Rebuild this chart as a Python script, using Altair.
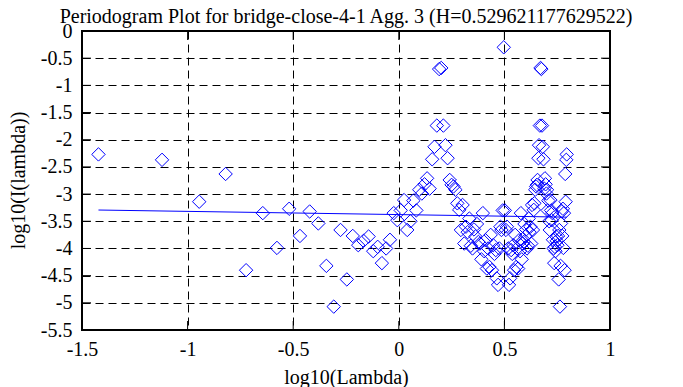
import altair as alt
import pandas as pd

# log10(Lambda) for each Fourier frequency (k = 1..165)
log_lambda = [
    -1.422, -1.121, -0.945, -0.820, -0.723, -0.644, -0.577, -0.519, -0.468, -0.422,
    -0.381, -0.343, -0.308, -0.276, -0.246, -0.218, -0.192, -0.167, -0.143, -0.121,
    -0.100, -0.080, -0.060, -0.042, -0.024, -0.007, 0.009, 0.025, 0.040, 0.055,
    0.069, 0.083, 0.097, 0.109, 0.122, 0.134, 0.146, 0.158, 0.169, 0.180,
    0.191, 0.201, 0.211, 0.221, 0.231, 0.241, 0.250, 0.259, 0.268, 0.277,
    0.286, 0.294, 0.302, 0.310, 0.318, 0.326, 0.334, 0.341, 0.349, 0.356,
    0.363, 0.370, 0.377, 0.384, 0.391, 0.398, 0.404, 0.411, 0.417, 0.423,
    0.429, 0.435, 0.441, 0.447, 0.453, 0.459, 0.464, 0.470, 0.476, 0.481,
    0.486, 0.492, 0.497, 0.502, 0.507, 0.512, 0.518, 0.522, 0.527, 0.532,
    0.537, 0.542, 0.546, 0.551, 0.556, 0.560, 0.565, 0.569, 0.574, 0.578,
    0.582, 0.587, 0.591, 0.595, 0.599, 0.603, 0.607, 0.611, 0.615, 0.619,
    0.623, 0.627, 0.631, 0.635, 0.639, 0.642, 0.646, 0.650, 0.654, 0.657,
    0.661, 0.664, 0.668, 0.671, 0.675, 0.678, 0.682, 0.685, 0.689, 0.692,
    0.695, 0.699, 0.702, 0.705, 0.708, 0.712, 0.715, 0.718, 0.721, 0.724,
    0.727, 0.730, 0.733, 0.736, 0.739, 0.742, 0.745, 0.748, 0.751, 0.754,
    0.757, 0.760, 0.763, 0.766, 0.768, 0.771, 0.774, 0.777, 0.779, 0.782,
    0.785, 0.788, 0.790, 0.793, 0.795,
]

# log10(I(lambda))
log_I = [
    -2.27, -2.37, -3.14, -2.63, -4.40, -3.35, -3.99, -3.27, -3.77, -3.32,
    -3.54, -4.32, -5.07, -3.66, -4.57, -3.77, -3.94, -3.86, -3.78, -4.05,
    -3.97, -4.27, -4.00, -3.84, -3.35, -3.48, -3.30, -3.11, -3.66, -3.50,
    -3.12, -3.30, -2.92, -2.99, -2.82, -2.71, -2.90, -2.36, -2.13, -1.74,
    -0.70, -0.68, -1.74, -2.10, -2.34, -2.74, -2.83, -2.86, -2.92, -3.17,
    -3.29, -3.66, -3.20, -3.91, -3.60, -3.70, -3.45, -3.95, -4.00, -3.65,
    -3.78, -3.55, -3.88, -3.91, -4.20, -3.35, -4.05, -3.85, -4.37, -4.00,
    -4.34, -3.75, -4.40, -3.94, -4.10, -4.03, -4.55, -4.67, -4.00, -3.60,
    -3.66, -3.30, -0.30, -3.30, -3.66, -3.60, -4.00, -4.67, -4.55, -4.03,
    -4.10, -3.94, -4.40, -3.75, -4.34, -4.00, -4.37, -3.85, -4.05, -3.35,
    -4.20, -3.91, -3.88, -3.55, -3.78, -3.65, -4.00, -3.95, -3.45, -3.70,
    -3.60, -3.91, -3.20, -3.66, -3.29, -3.17, -2.92, -2.86, -2.83, -2.74,
    -2.34, -2.10, -1.74, -0.68, -0.70, -1.74, -2.13, -2.36, -2.90, -2.71,
    -2.82, -2.99, -2.92, -3.30, -3.12, -3.50, -3.66, -3.11, -3.30, -3.48,
    -3.35, -3.84, -4.00, -4.27, -3.97, -4.05, -3.78, -3.86, -3.94, -3.77,
    -4.57, -3.66, -5.07, -4.32, -3.54, -3.32, -3.77, -3.27, -3.99, -3.35,
    -4.40, -2.63, -3.14, -2.37, -2.27,
]

# least-squares fit line end points
fit_x = [-1.422, 0.795]
fit_y = [-3.293, -3.424]

x_ticks = [-1.5, -1.0, -0.5, 0.0, 0.5, 1.0]
y_ticks = [-5.5, -5.0, -4.5, -4.0, -3.5, -3.0, -2.5, -2.0, -1.5, -1.0, -0.5, 0.0]

title_text = "Periodogram Plot for bridge-close-4-1 Agg. 3 (H=0.529621177629522)"

W, H = 528, 299
FONT = "Liberation Serif"
BLUE = "#0000ff"

pts = pd.DataFrame({"x": log_lambda, "y": log_I})
fit = pd.DataFrame({"x": fit_x, "y": fit_y})
xt = pd.DataFrame({"x": x_ticks})
yt = pd.DataFrame({"y": y_ticks})
tt = pd.DataFrame({"t": [title_text]})

xscale = alt.Scale(domain=[-1.5, 1.0], nice=False, zero=False)
yscale = alt.Scale(domain=[-5.5, 0.0], nice=False, zero=False)

common = dict(
    ticks=False, tickSize=0, domain=False, labelOverlap=False, labelFlush=False,
    labelFont=FONT, labelFontSize=20, labelColor="black",
    titleFont=FONT, titleFontSize=20, titleFontWeight="normal", titleColor="black",
    grid=True, gridColor="black", gridDash=[8, 5], gridWidth=1, gridOpacity=1,
    labelExpr="'' + datum.value",
)
xaxis = alt.Axis(
    values=x_ticks, title="log10(Lambda)", labelPadding=9,
    titleY=47, titleBaseline="middle", **common,
)
yaxis = alt.Axis(
    values=y_ticks, title="log10(I(lambda))", labelPadding=10,
    titleX=-64, titleY=149, titleAngle=270, titleAlign="center", titleBaseline="middle",
    **common,
)

def X(field):
    return alt.X(field, scale=xscale, axis=xaxis)

def Y(field):
    return alt.Y(field, scale=yscale, axis=yaxis)

points = alt.Chart(pts).mark_point(
    shape="diamond", filled=False, color=BLUE, size=180, strokeWidth=1, opacity=1
).encode(x=X("x:Q"), y=Y("y:Q"))

line = alt.Chart(fit).mark_line(color=BLUE, strokeWidth=1).encode(
    x=X("x:Q"), y=Y("y:Q"))

TL = 9
left_ticks = alt.Chart(yt).mark_rule(color="black", strokeWidth=1).encode(
    y=Y("y:Q"), x=alt.value(0), x2=alt.value(TL))
right_ticks = alt.Chart(yt).mark_rule(color="black", strokeWidth=1).encode(
    y=Y("y:Q"), x=alt.value(W - TL), x2=alt.value(W))
top_ticks = alt.Chart(xt).mark_rule(color="black", strokeWidth=1).encode(
    x=X("x:Q"), y=alt.value(0), y2=alt.value(TL))
bottom_ticks = alt.Chart(xt).mark_rule(color="black", strokeWidth=1).encode(
    x=X("x:Q"), y=alt.value(H - TL), y2=alt.value(H))

title = alt.Chart(tt).mark_text(
    font=FONT, fontSize=20, color="black", align="center", baseline="alphabetic"
).encode(x=alt.value(W / 2), y=alt.value(-8), text="t:N")

chart = alt.layer(
    points, line, left_ticks, right_ticks, top_ticks, bottom_ticks, title
).properties(
    width=W, height=H,
    autosize=alt.AutoSizeParams(type="none"),
    padding={"left": 74, "top": 23, "right": 65, "bottom": 57},
).configure_view(
    stroke="black", strokeWidth=2
).configure_axis(
    labelOverlap=False, labelFlush=False,
    labelFont=FONT, labelFontSize=20, labelColor="black",
    titleFont=FONT, titleFontSize=20, titleFontWeight="normal", titleColor="black",
)

chart.save("out.html", embed_options={"renderer": "svg", "actions": False})
